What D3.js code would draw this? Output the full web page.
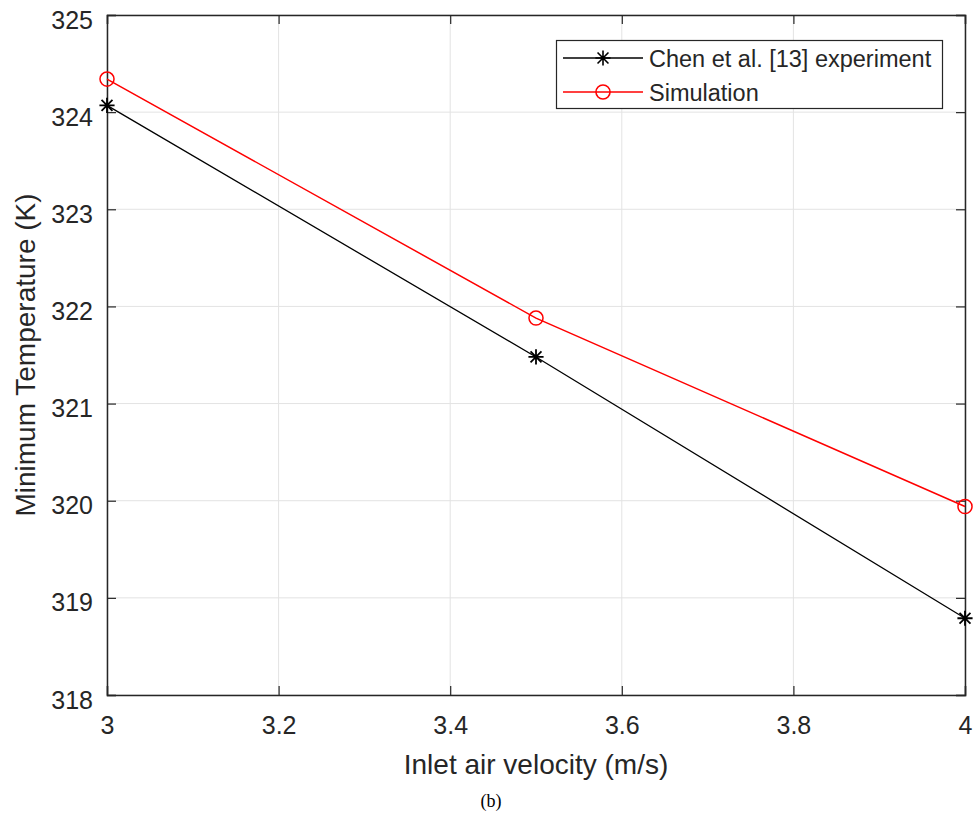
<!DOCTYPE html>
<html>
<head>
<meta charset="utf-8">
<script src="https://cdn.jsdelivr.net/npm/d3@7"></script>
<style>
  html, body { margin: 0; padding: 0; background: #fff; }
  svg { display: block; }
</style>
</head>
<body>
<svg id="chart" width="976" height="814"></svg>
<script>
// Inlet air velocity (m/s)
const velocity = [3, 3.5, 4];
// Minimum temperature (K)
const experiment = [324.07, 321.48, 318.79];
const simulation = [324.34, 321.88, 319.94];

const xTicks = [3, 3.2, 3.4, 3.6, 3.8, 4];
const yTicks = [318, 319, 320, 321, 322, 323, 324, 325];

const seriesNames = ["Chen et al. [13] experiment", "Simulation"];
const xLabel = "Inlet air velocity (m/s)";
const yLabel = "Minimum Temperature (K)";
const caption = "(b)";

const sans = "'Liberation Sans', Arial, Helvetica, sans-serif";
const serif = "'Liberation Serif', 'Times New Roman', serif";

const svg = d3.select("#chart");
const plot = { left: 107, right: 965, top: 15, bottom: 695 };

const x = d3.scaleLinear().domain([3, 4]).range([plot.left, plot.right]);
const y = d3.scaleLinear().domain([318, 325]).range([plot.bottom, plot.top]);

const axisColor = "#262626";
const gridColor = "#e3e3e3";
const tickLen = 9;

// grid lines
const grid = svg.append("g");
grid.selectAll(".gx").data(xTicks).join("line")
  .attr("x1", d => x(d)).attr("x2", d => x(d))
  .attr("y1", plot.top).attr("y2", plot.bottom)
  .attr("stroke", gridColor).attr("stroke-width", 1);
grid.selectAll(".gy").data(yTicks).join("line")
  .attr("x1", plot.left).attr("x2", plot.right)
  .attr("y1", d => y(d)).attr("y2", d => y(d))
  .attr("stroke", gridColor).attr("stroke-width", 1);

// axes: inward ticks on all four sides, labels on bottom and left
const fmt = d3.format("");
const bottomAxis = d3.axisBottom(x).tickValues(xTicks).tickSize(-tickLen).tickPadding(0).tickFormat(fmt);
const topAxis = d3.axisTop(x).tickValues(xTicks).tickSize(-tickLen).tickFormat("");
const leftAxis = d3.axisLeft(y).tickValues(yTicks).tickSize(-tickLen).tickFormat(fmt);
const rightAxis = d3.axisRight(y).tickValues(yTicks).tickSize(-tickLen).tickFormat("");

function styleAxis(g) {
  g.select(".domain").attr("stroke", axisColor).attr("stroke-width", 1.5);
  g.selectAll(".tick line").attr("stroke", axisColor).attr("stroke-width", 1.2);
  g.selectAll(".tick text").attr("fill", axisColor).attr("font-size", 25)
    .attr("font-family", sans);
}

const gb = svg.append("g").attr("transform", `translate(0,${plot.bottom})`).call(bottomAxis).call(styleAxis);
gb.selectAll(".tick text").attr("dy", null).attr("y", 39);
svg.append("g").attr("transform", `translate(0,${plot.top})`).call(topAxis).call(styleAxis);
const gl = svg.append("g").attr("transform", `translate(${plot.left},0)`).call(leftAxis).call(styleAxis);
gl.selectAll(".tick text").attr("dy", null).attr("x", -14).attr("y", 13);
svg.append("g").attr("transform", `translate(${plot.right},0)`).call(rightAxis).call(styleAxis);

// eight-ray asterisk marker (plus and cross)
const asterisk8 = {
  draw(ctx, size) {
    const r = Math.sqrt(size) * 0.6;
    const d = r * 0.72;
    ctx.moveTo(-r, 0); ctx.lineTo(r, 0);
    ctx.moveTo(0, -r); ctx.lineTo(0, r);
    ctx.moveTo(-d, -d); ctx.lineTo(d, d);
    ctx.moveTo(-d, d); ctx.lineTo(d, -d);
  }
};

// series lines
const lineGen = d3.line().x(d => x(d[0])).y(d => y(d[1]));
const expPts = velocity.map((v, i) => [v, experiment[i]]);
const simPts = velocity.map((v, i) => [v, simulation[i]]);

svg.append("path").datum(expPts).attr("d", lineGen)
  .attr("fill", "none").attr("stroke", "#000").attr("stroke-width", 1.3);
svg.append("path").datum(simPts).attr("d", lineGen)
  .attr("fill", "none").attr("stroke", "#ff0000").attr("stroke-width", 1.5);

const star = d3.symbol().type(asterisk8).size(160);
const circle = d3.symbol().type(d3.symbolCircle).size(155);

svg.append("g").selectAll("path").data(expPts).join("path")
  .attr("transform", d => `translate(${x(d[0])},${y(d[1])})`)
  .attr("d", star).attr("fill", "none").attr("stroke", "#000").attr("stroke-width", 1.8);
svg.append("g").selectAll("path").data(simPts).join("path")
  .attr("transform", d => `translate(${x(d[0])},${y(d[1])})`)
  .attr("d", circle).attr("fill", "none").attr("stroke", "#ff0000").attr("stroke-width", 1.5);

// legend
const lg = svg.append("g");
lg.append("rect").attr("x", 556.5).attr("y", 40.5).attr("width", 386).attr("height", 68)
  .attr("fill", "#fff").attr("stroke", axisColor).attr("stroke-width", 1.2);
const rows = [
  { name: seriesNames[0], color: "#000", sym: star, cy: 58 },
  { name: seriesNames[1], color: "#ff0000", sym: circle, cy: 92 }
];
rows.forEach(r => {
  lg.append("line").attr("x1", 563).attr("x2", 643).attr("y1", r.cy).attr("y2", r.cy)
    .attr("stroke", r.color).attr("stroke-width", 1.4);
  lg.append("path").attr("transform", `translate(603,${r.cy})`).attr("d", r.sym)
    .attr("fill", "none").attr("stroke", r.color).attr("stroke-width", 1.6);
  lg.append("text").attr("x", 649).attr("y", r.cy + 8.5).attr("font-size", 23.5)
    .attr("font-family", sans).attr("fill", axisColor).text(r.name);
});

// axis titles
svg.append("text").attr("x", (plot.left + plot.right) / 2).attr("y", 774)
  .attr("text-anchor", "middle").attr("font-size", 28).attr("font-family", sans)
  .attr("fill", axisColor).text(xLabel);
svg.append("text").attr("transform", `translate(35,${(plot.top + plot.bottom) / 2}) rotate(-90)`)
  .attr("text-anchor", "middle").attr("font-size", 28).attr("font-family", sans)
  .attr("fill", axisColor).text(yLabel);

// figure caption
svg.append("text").attr("x", 491).attr("y", 807).attr("text-anchor", "middle")
  .attr("font-family", serif).attr("font-size", 18).attr("fill", "#000").text(caption);
</script>
</body>
</html>
